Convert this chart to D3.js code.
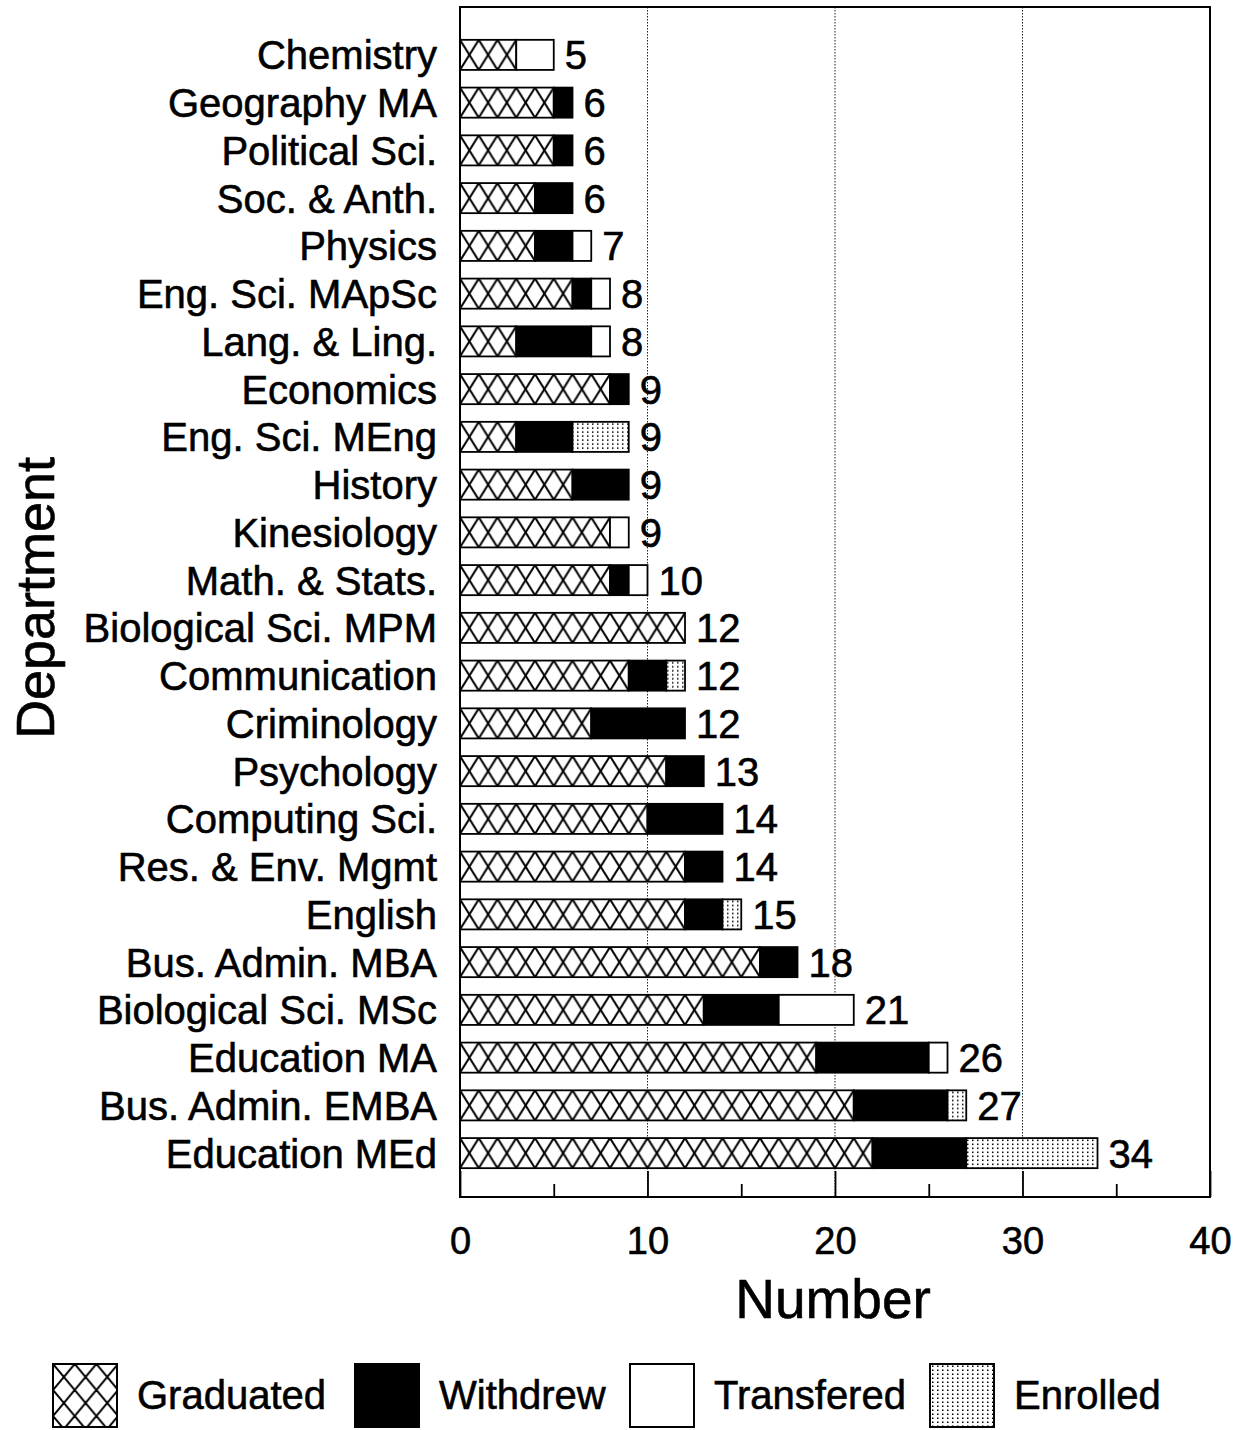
<!DOCTYPE html>
<html><head><meta charset="utf-8">
<script src="https://cdn.jsdelivr.net/npm/d3@7"></script>
<style>
body{margin:0;background:#fff}
text{font-family:"Liberation Sans",Arial,Helvetica,sans-serif;fill:#000;stroke:#000;stroke-width:0.6px}
</style>
</head><body>
<svg id="c" width="1241" height="1430"></svg>
<script>
const categories = ["Chemistry","Geography MA","Political Sci.","Soc. & Anth.","Physics","Eng. Sci. MApSc","Lang. & Ling.","Economics","Eng. Sci. MEng","History","Kinesiology","Math. & Stats.","Biological Sci. MPM","Communication","Criminology","Psychology","Computing Sci.","Res. & Env. Mgmt","English","Bus. Admin. MBA","Biological Sci. MSc","Education MA","Bus. Admin. EMBA","Education MEd"];
const graduated  = [3,5,5,4,4,6,3,8,3,6,8,8,12,9,7,11,10,12,12,16,13,19,21,22];
const withdrew   = [0,1,1,2,2,1,4,1,3,3,0,1,0,2,5,2,4,2,2,2,4,6,5,5];
const transfered = [2,0,0,0,1,1,1,0,0,0,1,1,0,0,0,0,0,0,0,0,4,1,0,0];
const enrolled   = [0,0,0,0,0,0,0,0,3,0,0,0,0,1,0,0,0,0,1,0,0,0,1,7];
const seriesNames = ["Graduated","Withdrew","Transfered","Enrolled"];
const xTicks = [0,10,20,30,40];
const xMinorTicks = [5,15,25,35];

const svg = d3.select("#c");
const L = 460, R = 1210, T = 7, B = 1197;
const x = d3.scaleLinear().domain([0,40]).range([L,R]);
const y = d3.scaleBand().domain(categories).range([31,1177]).paddingInner(0.37).paddingOuter(0.185);
const bh = y.bandwidth();

const fills = {Graduated:"url(#hatch)", Withdrew:"#000", Transfered:"#fff", Enrolled:"url(#dots)"};
const legendFills = {Graduated:"url(#hatchL)", Withdrew:"#000", Transfered:"#fff", Enrolled:"url(#dotsL)"};

const defs = svg.append("defs");
function hatch(id, w, h, x0, y0, sw){
  const p = defs.append("pattern").attr("id",id).attr("patternUnits","userSpaceOnUse")
    .attr("x",x0).attr("y",y0).attr("width",w).attr("height",h);
  p.append("rect").attr("width",w).attr("height",h).attr("fill","#fff");
  const segs = [[-w,-h,2*w,2*h],[2*w,-h,-w,2*h]];
  segs.forEach(s=>p.append("line").attr("x1",s[0]).attr("y1",s[1]).attr("x2",s[2]).attr("y2",s[3])
    .attr("stroke","#000").attr("stroke-width",sw));
}
hatch("hatch", x(1)-x(0), bh, L, 0, 2);
hatch("hatchL", 21.7, 26, 0, 0, 2);
function dots(id){
  const p = defs.append("pattern").attr("id",id).attr("patternUnits","userSpaceOnUse")
    .attr("width",5).attr("height",4);
  p.append("rect").attr("width",5).attr("height",4).attr("fill","#fff");
  p.append("rect").attr("x",2).attr("y",1.5).attr("width",1.5).attr("height",1.5).attr("fill","#000");
}
dots("dots"); dots("dotsL");

const rows = categories.map((c,i)=>({cat:c, Graduated:graduated[i], Withdrew:withdrew[i], Transfered:transfered[i], Enrolled:enrolled[i]}));
const stack = d3.stack().keys(seriesNames)(rows);

// gridlines
svg.append("g").selectAll("line").data([10,20,30]).join("line")
  .attr("x1",d=>x(d)).attr("x2",d=>x(d)).attr("y1",T).attr("y2",B)
  .attr("stroke","#222").attr("stroke-width",1).attr("stroke-dasharray","1.5,1.5");

// bars
const rowG = svg.append("g").selectAll("g").data(rows).join("g")
  .attr("transform",d=>`translate(0,${y(d.cat)})`);
stack.forEach(layer=>{
  rowG.append("rect")
    .datum((d,i)=>layer[i])
    .filter(d=>d[1]-d[0]>0)
    .attr("x",d=>x(d[0])).attr("y",0)
    .attr("width",d=>x(d[1])-x(d[0])).attr("height",bh)
    .attr("fill",fills[layer.key]).attr("stroke","#000").attr("stroke-width",1.8);
});
rowG.append("text")
  .attr("x",(d,i)=>x(graduated[i]+withdrew[i]+transfered[i]+enrolled[i])+11)
  .attr("y",bh/2).attr("dy","0.36em")
  .attr("font-size",40)
  .text((d,i)=>graduated[i]+withdrew[i]+transfered[i]+enrolled[i]);

// category labels
svg.append("g").selectAll("text").data(categories).join("text")
  .attr("x",437).attr("y",d=>y(d)+bh/2).attr("dy","0.36em")
  .attr("text-anchor","end").attr("font-size",40).text(d=>d);

// frame
svg.append("rect").attr("x",L).attr("y",T).attr("width",R-L).attr("height",B-T)
  .attr("fill","none").attr("stroke","#000").attr("stroke-width",2);

// x axis
const ax = svg.append("g").attr("transform",`translate(0,${B})`)
  .call(d3.axisBottom(x).tickValues(xTicks).tickSize(-26).tickPadding(30).tickFormat(d3.format("d")));
ax.select(".domain").remove();
ax.selectAll("line").attr("stroke","#000").attr("stroke-width",1.8);
ax.selectAll("text").attr("font-size",38).attr("font-family",'"Liberation Sans",Arial,sans-serif').attr("fill","#000");
const axm = svg.append("g").attr("transform",`translate(0,${B})`)
  .call(d3.axisBottom(x).tickValues(xMinorTicks).tickSize(-13).tickFormat(""));
axm.select(".domain").remove();
axm.selectAll("line").attr("stroke","#000").attr("stroke-width",1.8);

// axis titles
svg.append("text").attr("x",833).attr("y",1318).attr("text-anchor","middle")
  .attr("font-size",55).text("Number");
svg.append("text").attr("transform","translate(54,598) rotate(-90)").attr("text-anchor","middle")
  .attr("font-size",54).text("Department");

// legend
const legendX = [53,355,630,930];
const lg = svg.append("g").selectAll("g").data(seriesNames).join("g")
  .attr("transform",(d,i)=>`translate(${legendX[i]},1364)`);
lg.append("rect").attr("width",64).attr("height",63)
  .attr("fill",d=>legendFills[d]).attr("stroke","#000").attr("stroke-width",2);
lg.append("text").attr("x",84).attr("y",31).attr("dy","0.36em").attr("font-size",40).text(d=>d);
</script>
</body></html>
